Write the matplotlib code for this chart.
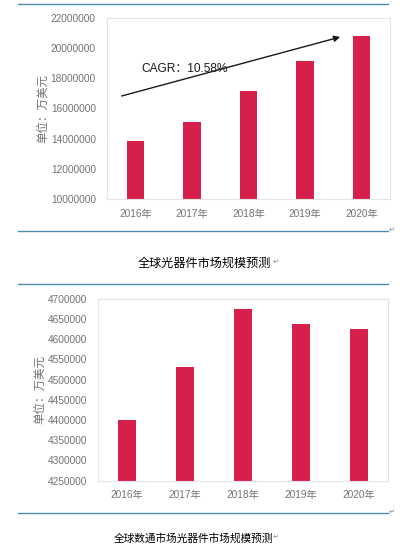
import matplotlib
matplotlib.use("Agg")
import matplotlib.pyplot as plt
from matplotlib.lines import Line2D

plt.rcParams['font.family'] = ['Liberation Sans', 'Noto Sans CJK SC', 'DejaVu Sans']

years = ["2016年", "2017年", "2018年", "2019年", "2020年"]
global_market = [13860000, 15130000, 17160000, 19150000, 20790000]
datacom_market = [4400000, 4530000, 4675000, 4637000, 4625000]
top_ticks = [10000000, 12000000, 14000000, 16000000, 18000000, 20000000, 22000000]
bottom_ticks = [4250000, 4300000, 4350000, 4400000, 4450000, 4500000, 4550000,
                4600000, 4650000, 4700000]
ylabel = "单位：万美元"
cagr_text = "CAGR：10.58%"
caption1 = "全球光器件市场规模预测"
caption2 = "全球数通市场光器件市场规模预测"

W, H = 400, 551
fig = plt.figure(figsize=(W / 100, H / 100), dpi=100)
fig.patch.set_facecolor("white")

BAR = "#D61F4B"
GRAY = "#737373"
RULE = "#4F8CAB"
SP = "#E4E4E4"


def px_axes(l, t, r, b):
    return fig.add_axes([l / W, 1 - b / H, (r - l) / W, (b - t) / H])


def style(ax, ticks, lab_x):
    ax.set_yticks(ticks)
    ax.set_yticklabels([str(t) for t in ticks])
    ax.tick_params(axis='both', length=0, labelsize=7.3, labelcolor=GRAY)
    ax.tick_params(axis='y', pad=8)
    ax.tick_params(axis='x', pad=7)
    for s in ax.spines.values():
        s.set_color(SP)
        s.set_linewidth(0.8)
    ax.set_ylabel(ylabel, fontsize=8.3, color=GRAY)
    ax.yaxis.set_label_coords(lab_x, 0.5)


# Top chart
ax1 = px_axes(107, 18, 390, 199)
x = list(range(len(years)))
ax1.bar(x, global_market, width=0.31, color=BAR)
ax1.set_xlim(-0.5, 4.5)
ax1.set_ylim(10000000, 22000000)
ax1.set_xticks(x)
ax1.set_xticklabels(years)
style(ax1, top_ticks, -0.205)
ax1.annotate("", xy=(3.62, 20740000), xytext=(-0.24, 16830000),
             arrowprops=dict(arrowstyle="-|>", color="#1a1a1a", lw=1.0,
                             mutation_scale=9, shrinkA=0, shrinkB=0))
ax1.text(0.11, 18650000, cagr_text, fontsize=8.6, color="#1a1a1a",
         ha="left", va="center")

# Bottom chart
ax2 = px_axes(98, 298.7, 388, 480.7)
ax2.bar(x, datacom_market, width=0.31, color=BAR)
ax2.set_xlim(-0.5, 4.5)
ax2.set_ylim(4250000, 4700000)
ax2.set_xticks(x)
ax2.set_xticklabels(years)
style(ax2, bottom_ticks, -0.18)

# Horizontal rules
for yy in [3.5, 231, 284.3, 513]:
    fig.add_artist(Line2D([18 / W, 388 / W], [1 - yy / H, 1 - yy / H],
                          color=RULE, lw=1.0, transform=fig.transFigure))
for yy in [231, 513]:
    fig.text(392 / W, 1 - (yy - 1) / H, "↵", fontsize=5, color="#888888",
             ha="center", va="center", family=['DejaVu Sans'])

# Captions
fig.text(204 / W, 1 - 263 / H, caption1, fontsize=8.7, color="black",
         ha="center", va="center", family=['Noto Sans CJK SC', 'DejaVu Sans'])
fig.text(273 / W, 1 - 262 / H, "↵", fontsize=5, color="#888888",
         ha="left", va="center", family=['DejaVu Sans'])
fig.text(193 / W, 1 - 538 / H, caption2, fontsize=7.7, color="black",
         ha="center", va="center", family=['Noto Sans CJK SC', 'DejaVu Sans'])
fig.text(273 / W, 1 - 537 / H, "↵", fontsize=5, color="#888888",
         ha="left", va="center", family=['DejaVu Sans'])

fig.savefig("out.png", dpi=100, facecolor="white")
